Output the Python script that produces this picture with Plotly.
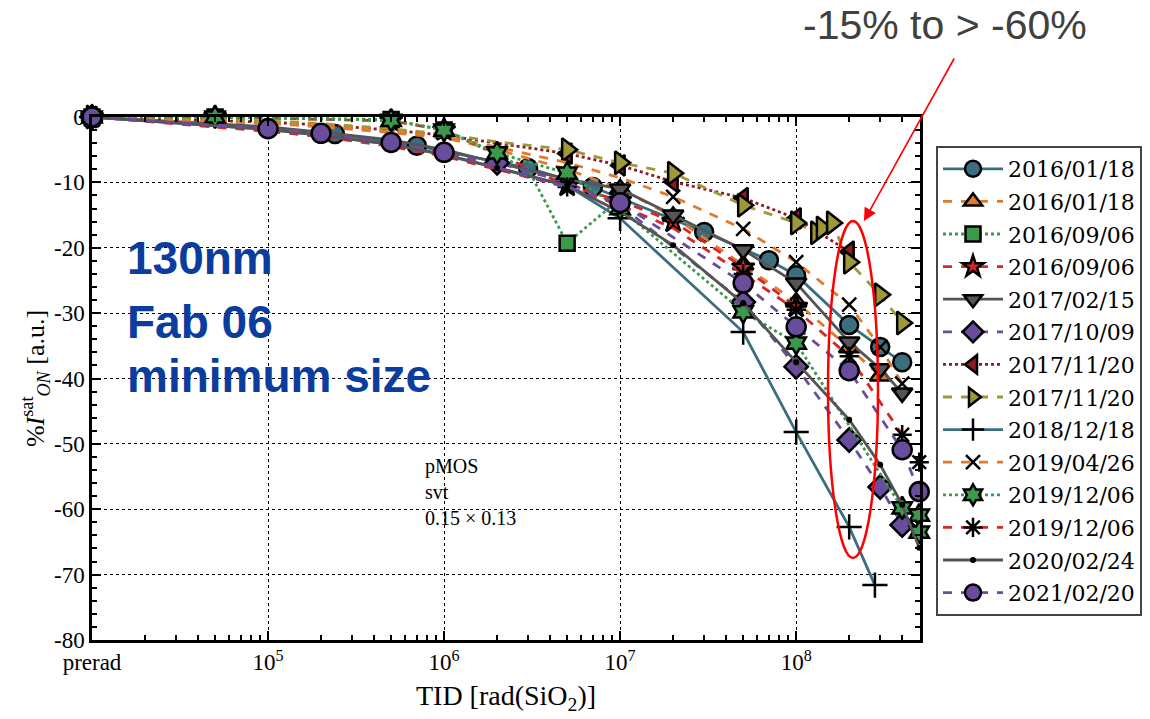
import math
import plotly.graph_objects as go

# ---------------- data: TID dose (rad) and % change of I_ON^sat ----------------
names = ["2016/01/18", "2016/01/18", "2016/09/06", "2016/09/06", "2017/02/15",
         "2017/10/09", "2017/11/20", "2017/11/20", "2018/12/18", "2019/04/26",
         "2019/12/06", "2019/12/06", "2020/02/24", "2021/02/20"]

dose_a = [1e4, 1e5, 2.4e5, 7e5, 3e6, 7e6, 3e7, 7e7, 1e8, 2e8, 3e8, 4e8]
ion_a = [0, -1.7, -2.6, -4.4, -7.8, -10.7, -17.6, -21.9, -24.2, -31.8, -35.2, -37.5]

dose_b = [1e4, 1e5, 2e5, 5e5, 1e6, 2e6, 5e6, 1e7, 2e7, 5e7, 1e8, 2e8, 3e8]
ion_b = [0, -1.0, -1.5, -2.4, -3.2, -5.0, -8.0, -11.0, -15.2, -22.6, -28.3, -35.3, -39.6]

dose_c = [1e4, 5e4, 5e5, 1e6, 3e6, 5e6, 1e7]
ion_c = [0, 0.0, -0.4, -2.0, -8.0, -19.3, -12.5]

dose_d = [1e4, 5e4, 5e5, 1e6, 5e6, 1e7, 2e7, 5e7, 1e8]
ion_d = [0, 0.0, -0.6, -2.0, -10.5, -12.8, -16.0, -23.0, -29.0]

dose_e = [1e4, 1e5, 2e5, 5e5, 1e6, 2e6, 5e6, 1e7, 2e7, 5e7, 1e8, 2e8, 3e8, 4e8]
ion_e = [0, -1.5, -2.3, -3.5, -5.0, -7.0, -9.5, -11.0, -15.0, -20.3, -25.4, -34.4, -38.5, -42.2]

dose_f = [1e4, 1e5, 2e5, 5e5, 1e6, 2e6, 5e6, 1e7, 5e7, 1e8, 2e8, 3e8, 4e8]
ion_f = [0, -1.8, -2.6, -4.0, -5.6, -7.0, -10.0, -13.5, -28.3, -38.2, -49.4, -56.6, -62.4]

dose_g = [1e4, 1e5, 2e5, 5e5, 1e6, 2e6, 5e6, 1e7, 2e7, 5e7, 1e8, 2e8]
ion_g = [0, -0.8, -1.2, -2.0, -2.8, -4.0, -5.6, -7.4, -9.9, -12.4, -15.5, -20.6]

dose_h = [1e4, 1e5, 2e5, 5e5, 1e6, 2e6, 5e6, 1e7, 2e7, 5e7, 1e8, 1.3e8, 1.4e8, 1.6e8, 2e8, 3e8, 4e8]
ion_h = [0, -0.6, -1.0, -1.8, -2.6, -3.8, -5.0, -7.0, -8.6, -13.5, -16.2, -17.7, -17.0, -16.2, -22.2, -27.2, -31.5]

dose_i = [1e4, 1e5, 2e5, 5e5, 1e6, 2e6, 5e6, 1e7, 5e7, 1e8, 2e8, 2.8e8]
ion_i = [0, -1.9, -2.8, -4.2, -5.8, -7.8, -10.5, -15.5, -32.9, -48.2, -62.7, -71.6]

dose_j = [1e4, 1e5, 2e5, 5e5, 1e6, 2e6, 5e6, 1e7, 2e7, 5e7, 1e8, 2e8, 3e8, 4e8]
ion_j = [0, -0.9, -1.4, -2.2, -3.0, -4.6, -7.0, -9.3, -12.2, -17.1, -22.2, -28.7, -35.2, -40.8]

dose_k = [1e4, 5e4, 5e5, 1e6, 2e6, 5e6, 1e7, 5e7, 1e8, 4e8, 5e8, 5e8]
ion_k = [0, 0.0, -0.5, -2.0, -5.5, -8.6, -14.0, -29.8, -34.6, -59.8, -60.9, -63.5]

dose_l = [1e4, 1e5, 2e5, 5e5, 1e6, 2e6, 5e6, 1e7, 2e7, 5e7, 1e8, 2e8, 4e8, 5e8]
ion_l = [0, -2.2, -3.0, -4.5, -6.0, -8.0, -10.7, -13.5, -17.0, -24.0, -29.5, -36.6, -48.6, -52.8]

dose_m = [1e4, 1e5, 2e5, 5e5, 1e6, 2e6, 5e6, 1e7, 2e7, 5e7, 1e8, 2e8, 3e8, 4e8, 5e8]
ion_m = [0, -1.9, -2.8, -4.2, -5.7, -7.8, -10.5, -14.5, -19.6, -28.5, -37.5, -46.3, -53.2, -59.3, -65.9]

dose_n = [1e4, 1e5, 2e5, 5e5, 1e6, 1e7, 5e7, 1e8, 2e8, 4e8, 5e8]
ion_n = [0, -1.8, -2.5, -3.9, -5.4, -13.1, -25.4, -32.1, -38.8, -50.9, -57.3]

doses = [dose_a, dose_b, dose_c, dose_d, dose_e, dose_f, dose_g,
         dose_h, dose_i, dose_j, dose_k, dose_l, dose_m, dose_n]
ions = [ion_a, ion_b, ion_c, ion_d, ion_e, ion_f, ion_g,
        ion_h, ion_i, ion_j, ion_k, ion_l, ion_m, ion_n]

x_tickvals = [1e4, 1e5, 1e6, 1e7, 1e8]
x_ticktext = ["prerad", "10<sup>5</sup>", "10<sup>6</sup>", "10<sup>7</sup>", "10<sup>8</sup>"]
y_tickvals = [0, -10, -20, -30, -40, -50, -60, -70, -80]
y_ticktext = ["0", "-10", "-20", "-30", "-40", "-50", "-60", "-70", "-80"]

# ---------------- styles ----------------
TEAL = "#3B6F7F"
ORANGE = "#E07A2E"
GREEN = "#3A9A4A"
RED = "#D62728"
GRAY = "#555555"
PURPLE = "#6A4C9C"
DARKRED = "#8E1B1F"
OLIVE = "#9D9838"

LOW = [1e5, 2e5, 5e5, 1e6, 2e6]   # doses drawn as line-only for most series

styles = [
    dict(color=TEAL, dash="solid", symbol="circle", size=18, fill=TEAL, bare=[]),
    dict(color=ORANGE, dash="dash", symbol="triangle-up", size=18, fill=ORANGE, bare=LOW + [5e6]),
    dict(color=GREEN, dash="dot", symbol="square", size=15, fill=GREEN, bare=[3e6]),
    dict(color=RED, dash="dash", symbol="star", size=17, fill=RED, bare=[]),
    dict(color=GRAY, dash="solid", symbol="triangle-down", size=18, fill=GRAY, bare=LOW + [5e6]),
    dict(color=PURPLE, dash="dash", symbol="diamond", size=18, fill=PURPLE, bare=[1e5, 2e5, 5e5, 1e6, 5e6, 1e7]),
    dict(color=DARKRED, dash="dot", symbol="triangle-left", size=18, fill=DARKRED, bare=LOW),
    dict(color=OLIVE, dash="dash", symbol="triangle-right", size=20, fill=OLIVE, bare=LOW),
    dict(color=TEAL, dash="solid", symbol="cross-thin", size=18, fill=None, bare=LOW + [5e6]),
    dict(color=ORANGE, dash="dash", symbol="x-thin", size=14, fill=None, bare=LOW + [5e6, 1e7]),
    dict(color=GREEN, dash="dot", symbol="hexagram", size=17, fill=GREEN, bare=[]),
    dict(color=RED, dash="dash", symbol="asterisk", size=16, fill=None, bare=LOW + [1e7, 2e7]),
    dict(color=GRAY, dash="solid", symbol="circle", size=6, fill="black", bare=[]),
    dict(color=PURPLE, dash="dash", symbol="circle", size=19, fill=PURPLE, bare=[]),
]


def marker_for(st):
    if st["fill"] is None:
        return dict(symbol=st["symbol"], size=st["size"], color="black",
                    line=dict(color="black", width=2.5))
    if st["size"] <= 6:
        return dict(symbol=st["symbol"], size=st["size"], color=st["fill"],
                    line=dict(width=0))
    return dict(symbol=st["symbol"], size=st["size"], color=st["fill"],
                line=dict(color="black", width=2.5))


fig = go.Figure()

# measured curves
for k, (nm, xs, ys, st) in enumerate(zip(names, doses, ions, styles)):
    marker = marker_for(st)
    marker["opacity"] = [0.0 if x in st["bare"] else 1.0 for x in xs]
    fig.add_trace(go.Scatter(
        x=xs, y=ys, name=nm, mode="lines+markers", showlegend=False,
        line=dict(color=st["color"], width=2.8, dash=st["dash"]),
        marker=marker, cliponaxis=False, legendgroup=f"g{k}",
    ))

# legend keys (one per curve, no data of their own)
for k, (nm, st) in enumerate(zip(names, styles)):
    fig.add_trace(go.Scatter(
        x=[None], y=[None], name=nm, mode="lines+markers", showlegend=True,
        line=dict(color=st["color"], width=2.8, dash=st["dash"]),
        marker=marker_for(st), legendgroup=f"g{k}",
    ))

# plot area in pixels: x 92..920, y 117..640
L, R, T, B = 92, 920, 117, 640
W, H = 1150, 719


def px(xp):
    return (xp - L) / (R - L)


def py(yp):
    return (B - yp) / (B - T)


SERIF = "Liberation Serif"
SANS = "Liberation Sans"

# log minor ticks at 2..9 of every decade
x_minor = [m * 10 ** d for d in range(4, 9) for m in range(2, 10)]

axis_common = dict(
    showline=True, linewidth=2.5, linecolor="black", mirror="allticks",
    ticks="inside", ticklen=9, tickwidth=2, tickcolor="black",
    showgrid=True, gridcolor="black", griddash="dot", gridwidth=1.3,
    zeroline=False, tickfont=dict(family=SERIF, size=23, color="black"),
)

fig.update_layout(
    width=W, height=H, autosize=False,
    margin=dict(l=L, r=W - R, t=T, b=H - B, autoexpand=False),
    paper_bgcolor="white", plot_bgcolor="white",
    font=dict(family=SERIF, color="black"),
    xaxis=dict(
        type="log", range=[4, math.log10(5.05e8)],
        tickmode="array", tickvals=x_tickvals, ticktext=x_ticktext,
        minor=dict(tickmode="array", tickvals=x_minor, ticks="inside", ticklen=5,
                   tickwidth=1.5, tickcolor="black", showgrid=False),
        title=dict(text="TID [rad(SiO<sub>2</sub>)]", font=dict(family=SERIF, size=28), standoff=12),
        **axis_common,
    ),
    yaxis=dict(
        range=[-80, 0], tickmode="array", tickvals=y_tickvals, ticktext=y_ticktext,
        minor=dict(ticks="inside", ticklen=5, tickwidth=1.5, tickcolor="black",
                   dtick=2, showgrid=False),
        title=dict(text="%<i>I</i><sup>sat</sup><sub><i>ON</i></sub> [a.u.]",
                   font=dict(family=SERIF, size=26), standoff=2),
        **axis_common,
    ),
    legend=dict(
        x=px(936), y=py(146), xanchor="left", yanchor="top",
        bgcolor="white", bordercolor="#444444", borderwidth=2,
        font=dict(family="DejaVu Serif", size=22, color="black"),
        tracegroupgap=1, itemwidth=60,
    ),
    showlegend=True,
)

annotations = [
    dict(x=px(125), y=py(258), text="<b>130nm</b>", xanchor="left", yanchor="middle",
         font=dict(family=SANS, size=46, color="#0B3D9E")),
    dict(x=px(125), y=py(322), text="<b>Fab 06</b>", xanchor="left", yanchor="middle",
         font=dict(family=SANS, size=46, color="#0B3D9E")),
    dict(x=px(125), y=py(376), text="<b>minimum size</b>", xanchor="left", yanchor="middle",
         font=dict(family=SANS, size=46, color="#0B3D9E")),
    dict(x=px(423), y=py(492), text="pMOS<br>svt<br>0.15 × 0.13", xanchor="left",
         yanchor="middle", align="left", font=dict(family=SERIF, size=20, color="black")),
    dict(x=px(945), y=py(25), text="-15% to > -60%", xanchor="center", yanchor="middle",
         font=dict(family=SANS, size=41, color="#404040")),
    dict(x=px(864), y=py(221), text="", showarrow=True, arrowhead=2, arrowsize=1.6,
         arrowwidth=1.6, arrowcolor="red", axref="pixel", ayref="pixel",
         ax=955 - 864, ay=57 - 221, standoff=0),
]
for a in annotations:
    a.setdefault("xref", "paper")
    a.setdefault("yref", "paper")
    a.setdefault("showarrow", False)
fig.update_layout(annotations=annotations)

fig.add_shape(type="circle", xref="paper", yref="paper",
              x0=px(828), x1=px(878), y0=py(558), y1=py(221),
              line=dict(color="red", width=2.5))

fig.write_html("out.html")
